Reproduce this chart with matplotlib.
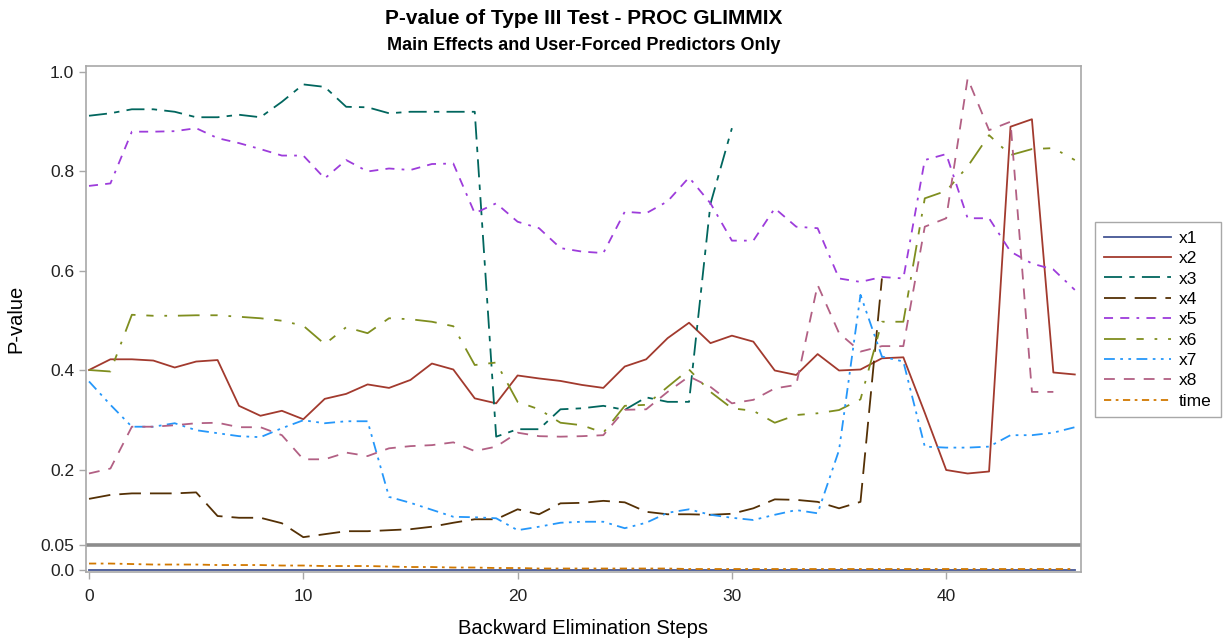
import matplotlib
matplotlib.use("Agg")
import matplotlib.pyplot as plt

plt.rcParams['font.family'] = ['Liberation Sans', 'DejaVu Sans']

# backward elimination steps 0..46 ; each series stops when the term leaves
x1 = [0.0, 0.0, 0.0, 0.0, 0.0, 0.0, 0.0, 0.0, 0.0, 0.0, 0.0, 0.0, 0.0, 0.0, 0.0, 0.0,
      0.0, 0.0, 0.0, 0.0, 0.0, 0.0, 0.0, 0.0, 0.0, 0.0, 0.0, 0.0, 0.0, 0.0, 0.0, 0.0,
      0.0, 0.0, 0.0, 0.0, 0.0, 0.0, 0.0, 0.0, 0.0, 0.0, 0.0, 0.0, 0.0, 0.0, 0.0]
x2 = [0.401, 0.4225, 0.4225, 0.420, 0.406, 0.418, 0.421, 0.329, 0.309, 0.319, 0.302,
      0.343, 0.353, 0.372, 0.365, 0.381, 0.414, 0.402, 0.344, 0.334, 0.390, 0.384,
      0.379, 0.371, 0.365, 0.408, 0.4225, 0.465, 0.496, 0.455, 0.470, 0.458, 0.400,
      0.391, 0.433, 0.400, 0.402, 0.4245, 0.4265, 0.315, 0.200, 0.193, 0.197, 0.890,
      0.905, 0.396, 0.392]
x3 = [0.912, 0.917, 0.925, 0.925, 0.920, 0.909, 0.909, 0.914, 0.909, 0.940, 0.975,
      0.970, 0.930, 0.929, 0.917, 0.920, 0.920, 0.920, 0.920, 0.267, 0.282, 0.282,
      0.322, 0.324, 0.329, 0.321, 0.346, 0.337, 0.337, 0.735, 0.887]
x4 = [0.142, 0.150, 0.153, 0.153, 0.153, 0.155, 0.1075, 0.104, 0.104, 0.093, 0.065,
      0.071, 0.077, 0.077, 0.079, 0.081, 0.086, 0.094, 0.101, 0.101, 0.121, 0.111,
      0.133, 0.134, 0.138, 0.135, 0.116, 0.111, 0.111, 0.110, 0.112, 0.123, 0.141,
      0.140, 0.136, 0.123, 0.136, 0.585]
x5 = [0.771, 0.776, 0.880, 0.880, 0.881, 0.887, 0.867, 0.857, 0.845, 0.832, 0.832,
      0.786, 0.823, 0.800, 0.806, 0.803, 0.815, 0.816, 0.716, 0.736, 0.699, 0.686,
      0.646, 0.639, 0.636, 0.719, 0.716, 0.740, 0.788, 0.736, 0.661, 0.661, 0.726,
      0.689, 0.686, 0.585, 0.578, 0.588, 0.585, 0.823, 0.835, 0.706, 0.706, 0.639,
      0.615, 0.603, 0.562]
x6 = [0.401, 0.398, 0.512, 0.510, 0.510, 0.511, 0.511, 0.508, 0.505, 0.500, 0.490,
      0.453, 0.487, 0.475, 0.505, 0.503, 0.498, 0.489, 0.411, 0.416, 0.337, 0.322,
      0.295, 0.290, 0.275, 0.329, 0.331, 0.367, 0.402, 0.357, 0.324, 0.319, 0.295,
      0.3105, 0.314, 0.3205, 0.342, 0.498, 0.498, 0.746, 0.761, 0.810, 0.873, 0.833,
      0.845, 0.847, 0.823]
x7 = [0.378, 0.331, 0.287, 0.287, 0.294, 0.280, 0.274, 0.268, 0.266, 0.284, 0.300,
      0.294, 0.298, 0.298, 0.146, 0.134, 0.120, 0.106, 0.105, 0.103, 0.079, 0.086,
      0.094, 0.096, 0.096, 0.083, 0.094, 0.114, 0.121, 0.110, 0.104, 0.0995, 0.110,
      0.1195, 0.113, 0.240, 0.552, 0.428, 0.418, 0.247, 0.245, 0.245, 0.247, 0.270,
      0.270, 0.275, 0.286]
x8 = [0.193, 0.203, 0.287, 0.287, 0.290, 0.294, 0.295, 0.286, 0.286, 0.270, 0.2215,
      0.2215, 0.235, 0.228, 0.2436, 0.248, 0.250, 0.2556, 0.238, 0.247, 0.275, 0.268,
      0.267, 0.268, 0.270, 0.321, 0.322, 0.357, 0.388, 0.367, 0.334, 0.341, 0.364,
      0.371, 0.572, 0.475, 0.438, 0.449, 0.449, 0.689, 0.706, 0.987, 0.883, 0.900,
      0.357, 0.357]
time = [0.012, 0.012, 0.011, 0.010, 0.010, 0.010, 0.009, 0.009, 0.009, 0.008, 0.008,
        0.007, 0.007, 0.007, 0.006, 0.005, 0.005, 0.004, 0.004, 0.003, 0.003, 0.002,
        0.002, 0.002, 0.002, 0.002, 0.002, 0.002, 0.001, 0.001, 0.001, 0.001, 0.001,
        0.001, 0.001, 0.001, 0.001, 0.001, 0.001, 0.001, 0.001, 0.001, 0.001, 0.001,
        0.001, 0.001, 0.001]

series = {"x1": x1, "x2": x2, "x3": x3, "x4": x4, "x5": x5,
          "x6": x6, "x7": x7, "x8": x8, "time": time}

yticks = [0.0, 0.05, 0.2, 0.4, 0.6, 0.8, 1.0]
ytick_labels = ["0.0", "0.05", "0.2", "0.4", "0.6", "0.8", "1.0"]
xticks = [0, 10, 20, 30, 40]

# SAS HTMLBlue style colours / line patterns
styles = {
    "x1": ("#445694", "-"),
    "x2": ("#A23A2E", "-"),
    "x3": ("#01665E", (0, (10, 4, 3, 4))),
    "x4": ("#543005", (0, (12, 5))),
    "x5": ("#9D3CDB", (0, (5, 4, 5, 4, 1.5, 4))),
    "x6": ("#7F8E1F", (0, (12, 6, 4, 6, 1.5, 6))),
    "x7": ("#2597FA", (0, (6, 3, 1.5, 3, 1.5, 3))),
    "x8": ("#B26084", (0, (6, 5))),
    "time": ("#D17800", (0, (4, 2.5, 1.5, 2.5))),
}

fig = plt.figure(figsize=(12.25, 6.41), dpi=100)
ax = fig.add_axes([86 / 1225, 1 - 572 / 641, (1081 - 86) / 1225, (572 - 66) / 641])

frame = "#a8a8a8"
ax.axhline(0.05, color="#8c8c8c", linewidth=2.6, zorder=1)

for name, vals in series.items():
    color, ls = styles[name]
    ax.plot(range(len(vals)), vals, color=color, linestyle=ls, linewidth=1.3,
            label=name, zorder=3)

ax.set_xlim(-0.14, 46.29)
ax.set_ylim(-0.005, 1.012)
ax.set_yticks(yticks)
ax.set_yticklabels(ytick_labels)
ax.set_xticks(xticks)
ax.tick_params(axis="both", labelsize=12.5, color=frame, length=5, width=1,
               labelcolor="#222222")
ax.tick_params(axis="x", pad=7)
for sp in ax.spines.values():
    sp.set_color(frame)
    sp.set_linewidth(1.2)

ax.set_xlabel("Backward Elimination Steps", fontsize=14.5, labelpad=11)
ax.set_ylabel("P-value", fontsize=14.5, labelpad=11)

# titles are centred over the plot area, not the whole figure
cx = (86 + 1081) / 2 / 1225
fig.text(cx, 1 - 18 / 641, "P-value of Type III Test - PROC GLIMMIX",
         ha="center", va="center", fontsize=15, fontweight="bold")
fig.text(cx, 1 - 45 / 641, "Main Effects and User-Forced Predictors Only",
         ha="center", va="center", fontsize=13, fontweight="bold")

leg = fig.legend(loc="upper left", bbox_to_anchor=(1095 / 1225, 1 - 222 / 641),
                 fontsize=12.5, handlelength=3.9, labelspacing=0.3,
                 borderpad=0.5, handletextpad=0.45, borderaxespad=0,
                 fancybox=False, edgecolor=frame, framealpha=1)
leg.get_frame().set_linewidth(1.0)

fig.savefig("out.png", dpi=100)
